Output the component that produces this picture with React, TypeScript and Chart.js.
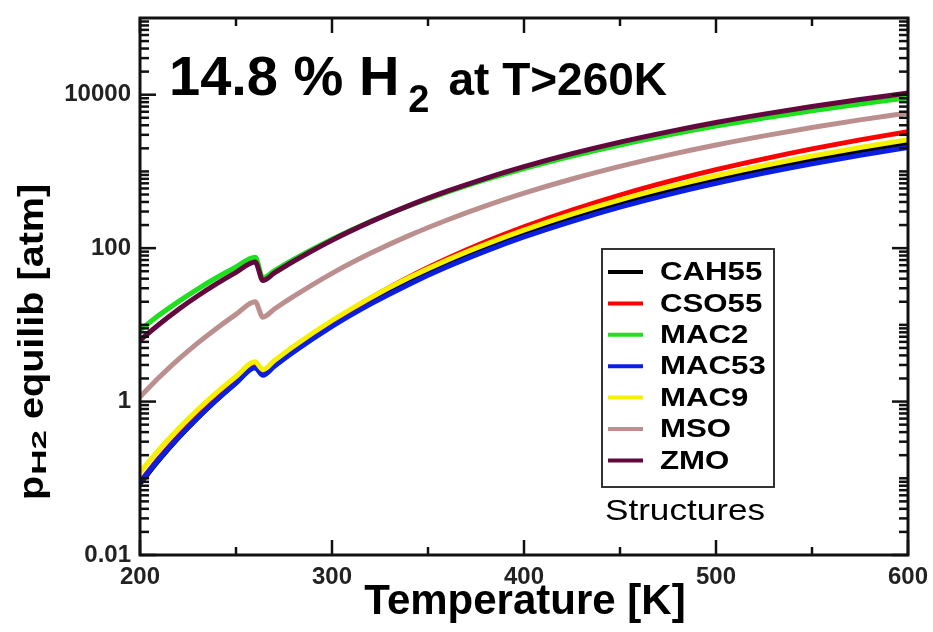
import React, { useEffect, useRef } from "react";
import { Chart, registerables } from "chart.js";

Chart.register(...registerables);

// Temperatures (K)
const TEMPS = [200, 210, 220, 230, 240, 250, 260, 264, 270, 280, 300, 320, 340, 360, 380, 400, 425, 450, 475, 500, 525, 550, 575, 600];

// Equilibrium H2 pressure (atm) per structure
const CAH55 = [0.085, 0.175, 0.337, 0.612, 1.06, 1.76, 2.8, 2.25, 2.96, 4.57, 9.98, 19.7, 36.1, 61.6, 99.5, 153, 248, 380, 558, 788, 1076, 1430, 1854, 2350];
const CSO55 = [0.09, 0.184, 0.353, 0.64, 1.1, 1.82, 2.9, 2.3, 3.07, 4.83, 10.9, 22.3, 41.9, 73.3, 121, 190, 314, 492, 735, 1054, 1460, 1966, 2578, 3300];
const MAC2 = [8.5, 13.4, 20.1, 29.3, 41.4, 56.8, 76, 41, 50.8, 71.2, 130.5, 222, 354, 537, 780, 1090, 1585, 2212, 2978, 3894, 4961, 6187, 7568, 9100];
const MAC53 = [0.088, 0.179, 0.341, 0.615, 1.056, 1.74, 2.75, 2.2, 2.88, 4.42, 9.52, 18.6, 33.7, 57.1, 91.4, 140, 224, 342, 499, 700, 952, 1259, 1624, 2050];
const MAC9 = [0.12, 0.238, 0.443, 0.782, 1.315, 2.12, 3.3, 2.6, 3.42, 5.26, 11.4, 22.5, 41.0, 69.8, 112, 172, 278, 426, 623, 878, 1197, 1588, 2055, 2600];
const MSO = [1.15, 2.07, 3.54, 5.78, 9.05, 13.7, 20, 12.6, 16.1, 23.5, 46.9, 85.5, 145.6, 233, 356, 521, 797, 1163, 1631, 2212, 2910, 3741, 4700, 5800];
const ZMO = [6.3, 10.2, 15.9, 23.8, 34.4, 48.3, 66, 38, 47.5, 67.5, 127, 220, 358, 552, 814, 1153, 1703, 2410, 3281, 4345, 5585, 7031, 8670, 10500];

const SERIES_NAMES = ["CAH55", "CSO55", "MAC2", "MAC53", "MAC9", "MSO", "ZMO"];
const SERIES_VALUES = [CAH55, CSO55, MAC2, MAC53, MAC9, MSO, ZMO];
const SERIES_COLORS = ["#000000", "#ff0000", "#1ee01e", "#0a1fe0", "#f5f000", "#bc8f8f", "#62083e"];

// Axis ticks
const X_MAJOR = [200, 300, 400, 500, 600];
const X_MINOR = [250, 350, 450, 550];
const Y_MAJOR = [0.01, 1, 100, 10000];
const Y_MINOR_EXP = [-2, -1, 0, 1, 2, 3, 4];
const Y_MINOR_MANT = [1, 2, 3, 4, 5, 6, 7, 8, 9];

const FONT = "'Liberation Sans', Arial, Helvetica, sans-serif";

const framePlugin = {
  id: "frameTicks",
  afterDatasetsDraw(chart: any) {
    const ctx = chart.ctx;
    const xs = chart.scales.x;
    const ys = chart.scales.y;
    const { left, right, top, bottom } = chart.chartArea;
    ctx.save();
    ctx.strokeStyle = "#111";
    ctx.lineWidth = 2.5;
    const line = (x1: number, y1: number, x2: number, y2: number) => {
      ctx.beginPath();
      ctx.moveTo(x1, y1);
      ctx.lineTo(x2, y2);
      ctx.stroke();
    };
    X_MAJOR.forEach((v) => {
      const p = xs.getPixelForValue(v);
      line(p, bottom, p, bottom - 15);
      line(p, top, p, top + 15);
    });
    X_MINOR.forEach((v) => {
      const p = xs.getPixelForValue(v);
      line(p, bottom, p, bottom - 8);
      line(p, top, p, top + 8);
    });
    Y_MINOR_EXP.forEach((e) => {
      Y_MINOR_MANT.forEach((m) => {
        const v = m * Math.pow(10, e);
        if (Y_MAJOR.some((mv) => Math.abs(mv - v) / mv < 1e-9)) return;
        const p = ys.getPixelForValue(v);
        if (p < top - 0.5 || p > bottom + 0.5) return;
        line(left, p, left + 9, p);
        line(right, p, right - 9, p);
      });
    });
    Y_MAJOR.forEach((v) => {
      const p = ys.getPixelForValue(v);
      line(left, p, left + 16, p);
      line(right, p, right - 16, p);
    });
    ctx.lineWidth = 3;
    ctx.strokeRect(left, top, right - left, bottom - top);
    ctx.restore();
  },
};

const legendPlugin = {
  id: "insideLegend",
  afterDraw(chart: any) {
    const ctx = chart.ctx;
    ctx.save();
    const bx = 602, by = 249, bw = 172, bh = 238;
    ctx.fillStyle = "#ffffff";
    ctx.fillRect(bx, by, bw, bh);
    ctx.strokeStyle = "#333";
    ctx.lineWidth = 2;
    ctx.strokeRect(bx, by, bw, bh);
    chart.data.datasets.forEach((ds: any, i: number) => {
      const y = 272 + i * 31.4;
      ctx.strokeStyle = ds.borderColor;
      ctx.lineWidth = 4;
      ctx.beginPath();
      ctx.moveTo(608, y);
      ctx.lineTo(643, y);
      ctx.stroke();
      ctx.save();
      ctx.translate(660, y);
      ctx.scale(1.2, 1);
      ctx.fillStyle = "#000";
      ctx.font = `bold 26px ${FONT}`;
      ctx.textBaseline = "middle";
      ctx.textAlign = "left";
      ctx.fillText(ds.label, 0, 1);
      ctx.restore();
    });
    ctx.save();
    ctx.translate(685, 520);
    ctx.scale(1.17, 1);
    ctx.fillStyle = "#000";
    ctx.font = `30px ${FONT}`;
    ctx.textAlign = "center";
    ctx.textBaseline = "alphabetic";
    ctx.fillText("Structures", 0, 0);
    ctx.restore();
    ctx.restore();
  },
};

const titlePlugin = {
  id: "titles",
  afterDraw(chart: any) {
    const ctx = chart.ctx;
    ctx.save();
    ctx.fillStyle = "#000";
    ctx.textAlign = "left";
    ctx.textBaseline = "alphabetic";
    // Main annotation
    let x = 169;
    ctx.font = `bold 56px ${FONT}`;
    ctx.fillText("14.8 % H", x, 95);
    x += ctx.measureText("14.8 % H").width + 9;
    ctx.font = `bold 38px ${FONT}`;
    ctx.fillText("2", x, 112);
    x += ctx.measureText("2").width + 19;
    ctx.font = `bold 46px ${FONT}`;
    ctx.fillText("at T>260K", x, 95);

    // X axis title
    ctx.font = `bold 42px ${FONT}`;
    ctx.textAlign = "center";
    ctx.fillText("Temperature [K]", 525, 614);

    // Y axis title
    ctx.textAlign = "left";
    ctx.save();
    ctx.translate(43, 500);
    ctx.rotate(-Math.PI / 2);
    ctx.scale(1.13, 1);
    ctx.font = `bold 35px ${FONT}`;
    ctx.fillText("p", 0, 0);
    const w = ctx.measureText("p").width + 1;
    ctx.save();
    ctx.translate(w, 3);
    ctx.scale(1.55, 1);
    ctx.font = `bold 20px ${FONT}`;
    ctx.fillText("H2", 0, 0);
    const sw = ctx.measureText("H2").width * 1.55;
    ctx.restore();
    ctx.font = `bold 35px ${FONT}`;
    ctx.fillText(" equilib [atm]", w + sw, 0);
    ctx.restore();
    ctx.restore();
  },
};

export default function App() {
  const ref = useRef<HTMLCanvasElement | null>(null);
  useEffect(() => {
    if (!ref.current) return;
    const n = SERIES_NAMES.length;
    const datasets = SERIES_NAMES.map((name, i) => ({
      label: name,
      data: TEMPS.map((t, j) => ({ x: t, y: SERIES_VALUES[i][j] })),
      borderColor: SERIES_COLORS[i],
      backgroundColor: SERIES_COLORS[i],
      borderWidth: 5,
      pointRadius: 0,
      fill: false,
      cubicInterpolationMode: "monotone" as const,
      order: n - i,
    }));
    const chart = new Chart(ref.current, {
      type: "line",
      data: { datasets },
      options: {
        animation: false,
        responsive: false,
        devicePixelRatio: 1,
        layout: { padding: { top: 18, right: 25, left: 0, bottom: 0 } },
        plugins: {
          legend: { display: false },
          tooltip: { enabled: false },
          title: { display: false },
        },
        scales: {
          x: {
            type: "linear",
            min: 200,
            max: 600,
            afterBuildTicks: (s: any) => {
              s.ticks = X_MAJOR.map((v) => ({ value: v }));
            },
            afterFit: (s: any) => {
              s.height = 77;
            },
            grid: { display: false },
            border: { display: false },
            ticks: {
              autoSkip: false,
              maxRotation: 0,
              padding: 0,
              color: "#222",
              font: { family: FONT, size: 24, weight: "bold" },
              callback: (v: any) => String(v),
            },
          },
          y: {
            type: "logarithmic",
            min: 0.01,
            max: 100000,
            afterBuildTicks: (s: any) => {
              s.ticks = Y_MAJOR.map((v) => ({ value: v }));
            },
            afterFit: (s: any) => {
              s.width = 140;
            },
            grid: { display: false },
            border: { display: false },
            ticks: {
              autoSkip: false,
              padding: 1,
              color: "#222",
              font: { family: FONT, size: 24, weight: "bold" },
              callback: (v: any) => String(v),
            },
          },
        },
      },
      plugins: [framePlugin, legendPlugin, titlePlugin],
    });
    return () => chart.destroy();
  }, []);
  return (
    <div style={{ position: "fixed", left: 0, top: 0, width: 933, height: 632, background: "#fff" }}>
      <canvas ref={ref} width={933} height={632} style={{ display: "block", width: 933, height: 632 }} />
    </div>
  );
}
